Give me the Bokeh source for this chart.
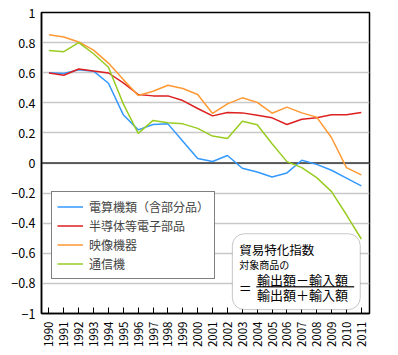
from bokeh.plotting import figure
from bokeh.models import (Range1d, FixedTicker, CustomJSTickFormatter, Span, Legend,
                          LegendItem, Label, BoxAnnotation)
from bokeh.embed import file_html
from bokeh.resources import INLINE
import math

years = list(range(1990, 2012))
computers = [0.60, 0.595, 0.62, 0.61, 0.53, 0.32, 0.22, 0.256, 0.26, 0.145, 0.03,
             0.01, 0.05, -0.035, -0.06, -0.093, -0.066, 0.018, -0.009, -0.048, -0.10, -0.152]
semis = [0.598, 0.583, 0.625, 0.611, 0.598, 0.532, 0.455, 0.446, 0.446, 0.415, 0.362,
         0.313, 0.336, 0.333, 0.317, 0.30, 0.256, 0.291, 0.30, 0.32, 0.32, 0.336]
video = [0.852, 0.837, 0.804, 0.75, 0.664, 0.554, 0.448, 0.477, 0.517, 0.495, 0.455,
         0.329, 0.393, 0.433, 0.403, 0.331, 0.371, 0.333, 0.305, 0.168, -0.031, -0.079]
telecom = [0.748, 0.74, 0.80, 0.726, 0.636, 0.393, 0.197, 0.283, 0.267, 0.26, 0.23,
           0.179, 0.163, 0.278, 0.254, 0.128, 0.009, -0.031, -0.097, -0.19, -0.344, -0.505]

series_names = ["電算機類（含部分品）", "半導体等電子部品", "映像機器", "通信機"]
series_colors = ["#3399ff", "#dd2020", "#ff9933", "#99cc22"]
y_ticks = [-1, -0.8, -0.6, -0.4, -0.2, 0, 0.2, 0.4, 0.6, 0.8, 1]

FONT = "Noto Sans CJK JP"

p = figure(width=398, height=355, output_backend="svg", toolbar_location=None,
           x_range=Range1d(1989.5, 2011.55), y_range=Range1d(-1, 1),
           min_border_left=41, min_border_right=29, min_border_top=12, min_border_bottom=42)

renderers = []
for vals, col in zip([computers, semis, video, telecom], series_colors):
    r = p.line(years, vals, line_color=col, line_width=1.5)
    renderers.append(r)

# axes
p.xaxis.ticker = FixedTicker(ticks=years)
p.xaxis.major_label_orientation = math.pi / 2
p.xaxis.major_tick_in = 6
p.xaxis.major_tick_out = 0
p.xaxis.minor_tick_line_color = None
p.xaxis.major_tick_line_color = "black"
p.xaxis.axis_line_color = "black"
p.xaxis.axis_line_width = 1.5
p.xaxis.major_label_standoff = 8
p.xaxis.major_label_text_font = FONT
p.xaxis.major_label_text_font_size = "11.5px"
p.xaxis.major_label_text_color = "black"

p.yaxis.ticker = FixedTicker(ticks=y_ticks)
p.yaxis.formatter = CustomJSTickFormatter(code="""
const a = Math.abs(tick);
const s = (Math.abs(a - Math.round(a)) < 1e-9) ? Math.round(a).toString() : a.toFixed(1);
return (tick < -1e-9 ? "\\u2212" : "") + s;
""")
p.yaxis.major_tick_in = 0
p.yaxis.major_tick_out = 0
p.yaxis.minor_tick_line_color = None
p.yaxis.axis_line_color = "black"
p.yaxis.axis_line_width = 1.5
p.yaxis.major_label_standoff = 6
p.yaxis.major_label_text_font = FONT
p.yaxis.major_label_text_font_size = "12.5px"
p.yaxis.major_label_text_color = "black"

p.xgrid.visible = False
p.ygrid.ticker = FixedTicker(ticks=y_ticks)
p.ygrid.grid_line_color = "#c8c8c8"
p.ygrid.grid_line_width = 1.5

p.outline_line_color = "black"
p.outline_line_width = 1.5

p.add_layout(Span(location=0, dimension="width", line_color="#333333",
                  line_width=1.5, level="underlay"))

legend = Legend(items=[LegendItem(label=n, renderers=[r]) for n, r in zip(series_names, renderers)],
                location=(10, 34), margin=0, padding=5, spacing=0,
                label_height=19, glyph_height=19, glyph_width=26, label_standoff=6,
                border_line_color="black", border_line_width=1.5,
                label_text_font=FONT, label_text_font_size="12px",
                background_fill_color="white", background_fill_alpha=1)
p.add_layout(legend)

# formula box
p.add_layout(BoxAnnotation(left=2002.33, right=2010.93, top=-0.47, bottom=-0.974,
                           border_radius=12, fill_color="white", fill_alpha=1,
                           line_color="#444444", line_width=1))
p.add_layout(BoxAnnotation(left=2003.94, right=2010.52, top=-0.818, bottom=-0.828,
                           fill_color="#333333", fill_alpha=1, line_alpha=0))
p.add_layout(Label(x=2002.8, y=-0.576, text="貿易特化指数", text_align="left",
                   text_baseline="middle", text_font=FONT, text_font_size="12.5px",
                   text_color="black"))
p.add_layout(Label(x=2002.8, y=-0.675, text="対象商品の", text_align="left",
                   text_baseline="middle", text_font=FONT, text_font_size="10px",
                   text_color="black"))
p.add_layout(Label(x=2003.2, y=-0.83, text="＝", text_align="center",
                   text_baseline="middle", text_font=FONT, text_font_size="13px",
                   text_color="black"))
p.add_layout(Label(x=2003.99, y=-0.775, text="輸出額－輸入額", text_align="left",
                   text_baseline="middle", text_font=FONT, text_font_size="13px",
                   text_color="black"))
p.add_layout(Label(x=2003.99, y=-0.876, text="輸出額＋輸入額", text_align="left",
                   text_baseline="middle", text_font=FONT, text_font_size="13px",
                   text_color="black"))
p.add_layout(Label(x=2011.6, y=-1.087, text="(年)", text_align="left",
                   text_baseline="middle", text_font=FONT, text_font_size="11px",
                   text_color="black"))

open("out.html", "w").write(file_html(p, INLINE))
